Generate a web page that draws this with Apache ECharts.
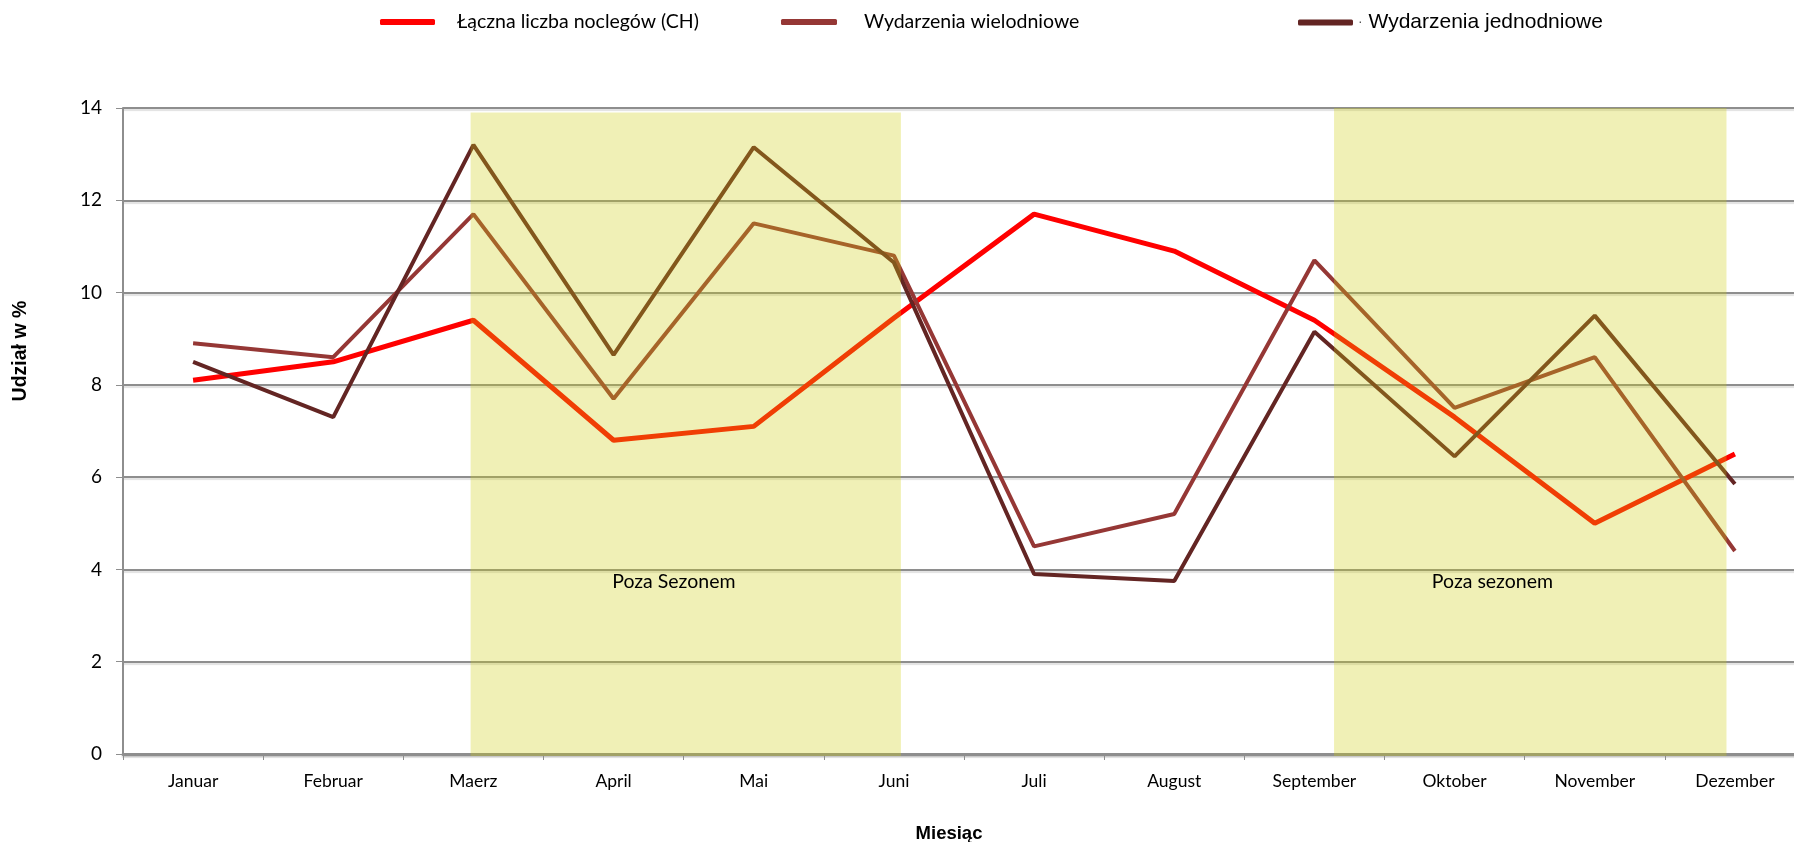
<!DOCTYPE html>
<html>
<head>
<meta charset="utf-8">
<script src="https://cdn.jsdelivr.net/npm/echarts@6/dist/echarts.min.js"></script>
<style>
html,body{margin:0;padding:0;background:#fff;}
#chart{width:1794px;height:842px;}
</style>
</head>
<body>
<div id="chart"></div>
<script>
// ---- data ----
const months = ['Januar','Februar','Maerz','April','Mai','Juni','Juli','August','September','Oktober','November','Dezember'];
const seriesNames = ['Łączna liczba noclegów (CH)', 'Wydarzenia wielodniowe', 'Wydarzenia jednodniowe'];
const noclegi = [8.1, 8.5, 9.4, 6.8, 7.1, 9.45, 11.7, 10.9, 9.4, 7.3, 5.0, 6.5];
const wielodniowe = [8.9, 8.6, 11.7, 7.7, 11.5, 10.8, 4.5, 5.2, 10.7, 7.5, 8.6, 4.4];
const jednodniowe = [8.5, 7.3, 13.2, 8.65, 13.15, 10.65, 3.9, 3.75, 9.15, 6.45, 9.5, 5.85];
const yMin = 0, yMax = 14, yStep = 2;
// off-season bands in category units: [start, end, top value]
const offSeasonBands = [[2.48, 5.55, 13.9], [8.64, 11.44, 14]];
const offSeasonLabels = ['Poza Sezonem', 'Poza sezonem'];
const offSeasonLabelPos = [[3.93, 3.73], [9.77, 3.73]];
const yAxisTitle = 'Udział w %';
const xAxisTitle = 'Miesiąc';

const chart = echarts.init(document.getElementById('chart'), null, {renderer: 'canvas'});
const calibri = 'Lato, "Open Sans", sans-serif';
const arial = '"Liberation Sans", Arial, sans-serif';
const gray = '#8e8e8e';

const option = {
  animation: false,
  backgroundColor: '#ffffff',
  textStyle: {fontFamily: calibri},
  legend: [
    {data: [seriesNames[0]], left: 380, top: 12, padding: 0, icon: 'roundRect', itemWidth: 55, itemHeight: 6,
     textStyle: {fontFamily: calibri, fontSize: 19.5, color: '#000', padding: [0, 0, 0, 17]}},
    {data: [seriesNames[1]], left: 781, top: 12, padding: 0, icon: 'roundRect', itemWidth: 56, itemHeight: 6,
     textStyle: {fontFamily: calibri, fontSize: 19.5, color: '#000', padding: [0, 0, 0, 22]}},
    {data: [seriesNames[2]], left: 1298, top: 12, padding: 0, icon: 'roundRect', itemWidth: 55, itemHeight: 6,
     formatter: '{d|·} {name}',
     textStyle: {fontFamily: arial, fontSize: 21, color: '#000', padding: [0, 0, 0, 0],
       rich: {d: {fontSize: 14, color: '#555', fontFamily: arial}}}}
  ],
  grid: {left: 123, right: -11, top: 108, bottom: 88, containLabel: false, outerBoundsMode: 'none'},
  xAxis: [
    {type: 'category', data: months, boundaryGap: true,
     axisLine: {show: true, lineStyle: {color: gray, width: 3, shadowColor: 'rgba(0,0,0,0.12)', shadowOffsetY: 2, shadowBlur: 1}},
     axisTick: {show: true, interval: 0, length: 6, lineStyle: {color: gray, width: 1}},
     axisLabel: {interval: 0, margin: 18, color: '#000', fontSize: 17.5, fontFamily: calibri},
     splitLine: {show: false},
     name: xAxisTitle, nameLocation: 'middle', nameGap: 70,
     nameTextStyle: {fontFamily: arial, fontWeight: 'bold', fontSize: 18.5, color: '#000', padding: [0, 30, 0, 0]}},
    {type: 'value', min: 0, max: months.length, show: false}
  ],
  yAxis: {
    type: 'value', min: yMin, max: yMax, interval: yStep,
    axisLine: {show: true, lineStyle: {color: gray, width: 2}},
    axisTick: {show: true, length: 7, lineStyle: {color: gray, width: 1}},
    axisLabel: {margin: 21, color: '#000', fontSize: 19, fontFamily: calibri},
    splitLine: {show: true, lineStyle: {color: gray, width: 2, shadowColor: 'rgba(0,0,0,0.12)', shadowOffsetY: 2, shadowBlur: 1}},
    name: yAxisTitle, nameLocation: 'middle', nameGap: 92,
    nameTextStyle: {fontFamily: arial, fontWeight: 'bold', fontSize: 19.5, color: '#000', padding: [0, 0, 0, 160]}
  },
  series: [
    {name: seriesNames[0], type: 'line', data: noclegi, symbol: 'none', z: 2,
     lineStyle: {width: 5, color: '#ff0000'}, itemStyle: {color: '#ff0000'}},
    {name: seriesNames[1], type: 'line', data: wielodniowe, symbol: 'none', z: 2,
     lineStyle: {width: 4, color: '#953735'}, itemStyle: {color: '#953735'}},
    {name: seriesNames[2], type: 'line', data: jednodniowe, symbol: 'none', z: 2,
     lineStyle: {width: 4, color: '#632523'}, itemStyle: {color: '#632523'}},
    {type: 'custom', xAxisIndex: 1, yAxisIndex: 0, silent: true, z: 5,
     data: offSeasonBands, encode: {x: [0, 1], y: 2},
     renderItem: function (params, api) {
       const p0 = api.coord([api.value(0), api.value(2)]);
       const p1 = api.coord([api.value(1), 0]);
       return {type: 'rect', shape: {x: p0[0], y: p0[1], width: p1[0] - p0[0], height: p1[1] - p0[1] + 2},
               style: {fill: 'rgba(204,204,14,0.3)'}};
     }},
    {type: 'custom', xAxisIndex: 1, yAxisIndex: 0, silent: true, z: 6,
     data: offSeasonLabelPos, encode: {x: 0, y: 1},
     renderItem: function (params, api) {
       const p = api.coord([api.value(0), api.value(1)]);
       return {type: 'text', x: p[0], y: p[1],
               style: {text: offSeasonLabels[params.dataIndex], align: 'center', verticalAlign: 'middle',
                       fontFamily: calibri, fontSize: 19.5, fill: '#000'}};
     }}
  ]
};
chart.setOption(option);
</script>
</body>
</html>
